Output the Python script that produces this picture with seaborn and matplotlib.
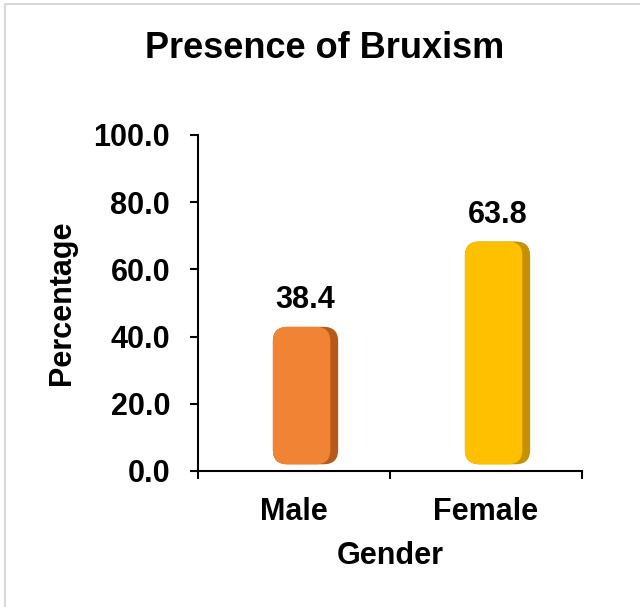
import matplotlib
matplotlib.use("Agg")
import matplotlib.pyplot as plt
from matplotlib.patches import FancyBboxPatch
from matplotlib.lines import Line2D
import seaborn as sns
import pandas as pd

genders = ["Male", "Female"]
percent = [38.4, 63.8]
face_colors = ["#F08434", "#FFC000"]
side_colors = ["#B5591C", "#C49200"]

sns.set_theme(style="white")
plt.rcParams['font.family'] = ['Liberation Sans', 'DejaVu Sans']
plt.rcParams['font.weight'] = 'bold'
plt.rcParams['text.color'] = 'black'
plt.rcParams['axes.labelcolor'] = 'black'
plt.rcParams['xtick.color'] = 'black'
plt.rcParams['ytick.color'] = 'black'

df = pd.DataFrame({"Gender": genders, "Percentage": percent})

fig = plt.figure(figsize=(6.4, 6.07), dpi=100)
ax = fig.add_axes([198 / 640, 1 - 471 / 607, 384 / 640, 336 / 607])

sns.barplot(data=df, x="Gender", y="Percentage", hue="Gender",
            palette=face_colors, width=0.34, legend=False, ax=ax)

# swap flat bars for rounded "3D" looking ones
shift = 0.06
asp = (336 / 100) / 192  # px per y-unit / px per x-unit
for i, p in enumerate(ax.patches):
    x, w, h = p.get_x() + shift, p.get_width(), p.get_height()
    p.set_visible(False)
    r = 0.075
    # dark side / back
    back = FancyBboxPatch((x, 2), w, h + 2.5,
                          boxstyle=f"round,pad=0,rounding_size={r}",
                          mutation_aspect=1 / asp,
                          fc=side_colors[i], ec="none", zorder=2)
    ax.add_patch(back)
    # front face
    front = FancyBboxPatch((x, 2), w * 0.88, h + 2.5,
                           boxstyle=f"round,pad=0,rounding_size={r}",
                           mutation_aspect=1 / asp,
                           fc=face_colors[i], ec="none", zorder=3)
    ax.add_patch(front)
    ax.text(x + w / 2, h + 12.5, f"{h:.1f}", ha="center", va="center",
            fontsize=22, fontweight="bold", color="black")

ax.set_ylim(0, 100)
ax.set_xlim(-0.5, 1.5)
ax.set_yticks([0, 20, 40, 60, 80, 100])
ax.set_yticklabels([f"{v:.1f}" for v in [0, 20, 40, 60, 80, 100]])
ax.set_xticks([0, 1])
ax.set_xticklabels(genders)
ax.set_xticks([-0.5, 0.5, 1.5], minor=True)
ax.tick_params(axis="x", which="major", length=0, pad=19, labelsize=22)
ax.tick_params(axis="x", which="minor", length=6, width=1.5, direction="out",
               color="black", bottom=True)
ax.tick_params(axis="y", length=6, width=1.5, direction="out", color="black",
               left=True, pad=14, labelsize=22)
for t in ax.get_xticklabels() + ax.get_yticklabels():
    t.set_fontweight("bold")

sns.despine(ax=ax)
for s in ["left", "bottom"]:
    ax.spines[s].set_linewidth(1.5)
    ax.spines[s].set_color("black")

ax.set_xlabel("Gender", fontsize=22, fontweight="bold", labelpad=10)
ax.set_ylabel("Percentage", fontsize=22, fontweight="bold", labelpad=12)

fig.text(0.508, 1 - 48 / 607, "Presence of Bruxism", ha="center", va="center",
         fontsize=26, fontweight="bold")

# light frame round the chart area
fig.add_artist(Line2D([5 / 640, 1], [1 - 4 / 607, 1 - 4 / 607],
                      color="#D9D9D9", lw=1.5))
fig.add_artist(Line2D([5 / 640, 5 / 640], [0, 1 - 4 / 607],
                      color="#D9D9D9", lw=1.5))

fig.savefig("out.png", dpi=100)
